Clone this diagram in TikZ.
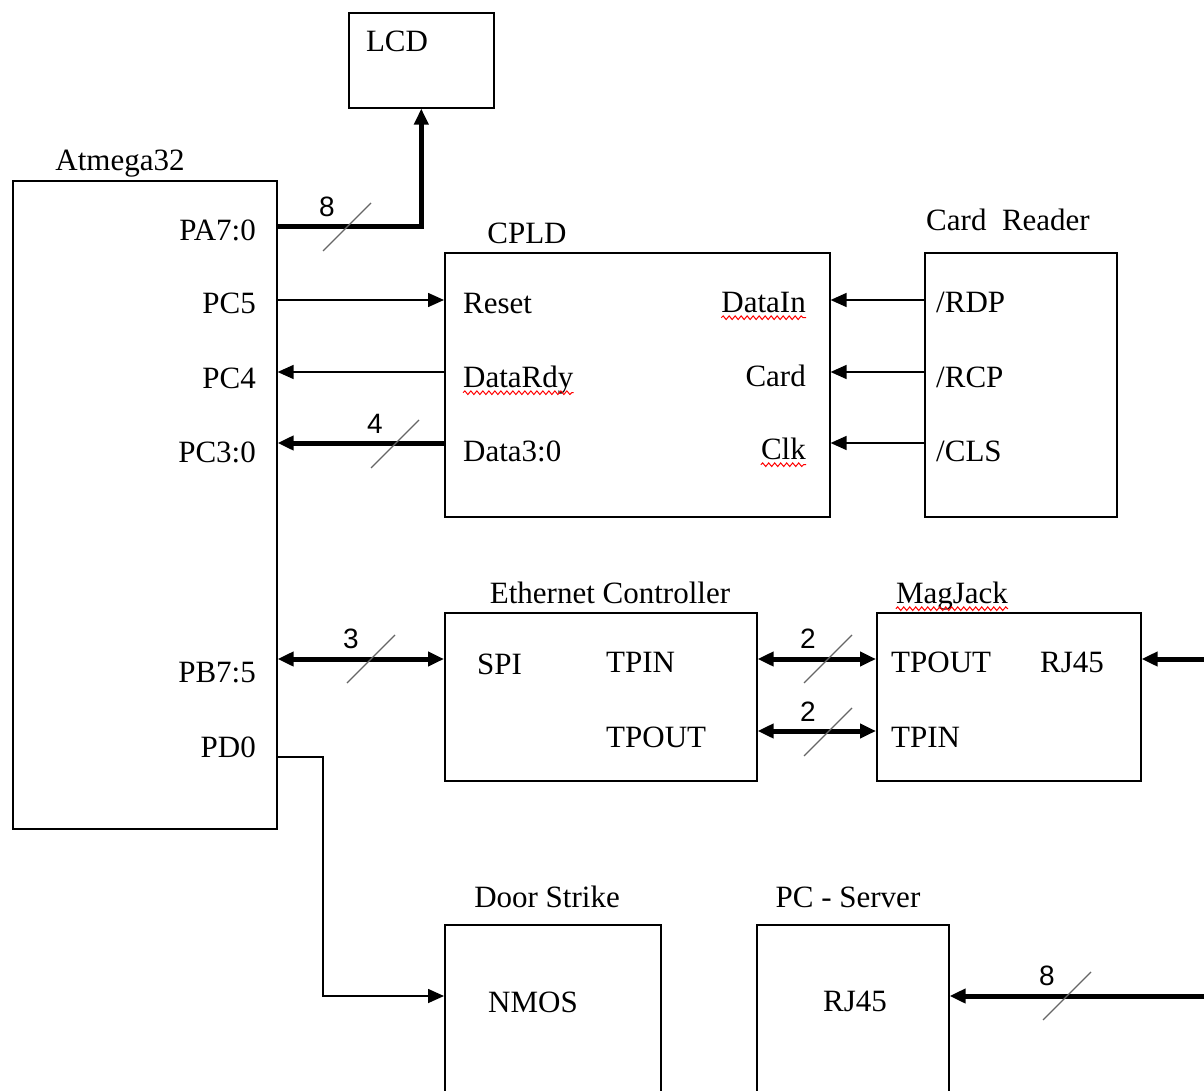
\documentclass[tikz,border=0pt]{standalone}
\usepackage{fontspec}
\setmainfont{Liberation Serif}
\setsansfont{Liberation Sans}
\usetikzlibrary{arrows.meta,decorations.pathmorphing}

\tikzset{
	blk/.style={draw, line width=1.6pt, anchor=north west, inner sep=0pt},
	txt/.style={inner sep=0pt, text height=21pt, text depth=0pt},
	sig/.style={line width=1.6pt},
	bus/.style={line width=5pt},
	slashmark/.style={line width=1.2pt, black!60},
	buswidth/.style={txt, font=\sffamily\fontsize{28}{32}\selectfont},
	squig/.style={red, line width=1pt, decorate,
		decoration={snake, amplitude=1.8pt, segment length=6pt}}
}

\begin{document}
\begin{tikzpicture}[
	x=1pt,
	y=-1pt,
	font=\fontsize{31}{37}\selectfont,
	>={Triangle[length=16pt,width=14pt]}
	]
	\useasboundingbox (0,0) rectangle (1204,1091);
	\clip (0,0) rectangle (1204,1091);

	% --- blocks ---
	\node[blk, minimum width=145pt, minimum height=95pt]  (lcd)  at (348,12)  {};
	\node[blk, minimum width=264pt, minimum height=648pt] (atm)  at (12,180)  {};
	\node[blk, minimum width=385pt, minimum height=264pt] (cpld) at (444,252) {};
	\node[blk, minimum width=192pt, minimum height=264pt] (card) at (924,252) {};
	\node[blk, minimum width=312pt, minimum height=168pt] (eth)  at (444,612) {};
	\node[blk, minimum width=264pt, minimum height=168pt] (mag)  at (876,612) {};
	\node[blk, minimum width=216pt, minimum height=220pt] (door) at (444,924) {};
	\node[blk, minimum width=192pt, minimum height=220pt] (pcs)  at (756,924) {};

	% titles
	\node[txt] (tlcd)  at (397,41)   {LCD};
	\node[txt] (tatm)  at (120,160)  {Atmega32};
	\node[txt] (tcpld) at (527,233)  {CPLD};
	\node[txt] (tcard) at (1008,220) {Card\ \ Reader};
	\node[txt] (teth)  at (610,593)  {Ethernet Controller};
	\node[txt] (tmag)  at (952,593)  {MagJack};
	\node[txt] (tdoor) at (547,897)  {Door Strike};
	\node[txt] (tpcs)  at (848,897)  {PC - Server};

	% Atmega32 pins (right aligned)
	\foreach \nm/\y/\s in {pa/230/PA7:0, pcf/303/PC5, pcv/378/PC4, pcd/452/PC3:0,
		pb/672/PB7:5, pd/747/PD0}
		\node[txt, anchor=east] (\nm) at (256,\y) {\s};

	% CPLD pins
	\node[txt, anchor=west] (reset)   at (463,303) {Reset};
	\node[txt, anchor=west] (datardy) at (463,377) {DataRdy};
	\node[txt, anchor=west] (dataq)   at (463,451) {Data3:0};
	\node[txt, anchor=east] (datain)  at (806,302) {DataIn};
	\node[txt, anchor=east] (cardp)   at (806,376) {Card};
	\node[txt, anchor=east] (clk)     at (806,449) {Clk};

	% Card reader pins
	\node[txt, anchor=west] (rdp) at (936,302) {/RDP};
	\node[txt, anchor=west] (rcp) at (936,377) {/RCP};
	\node[txt, anchor=west] (cls) at (936,451) {/CLS};

	% Ethernet controller / MagJack pins
	\node[txt, anchor=west] (spi)    at (477,664) {SPI};
	\node[txt, anchor=west] (etin)   at (606,662) {TPIN};
	\node[txt, anchor=west] (etout)  at (606,737) {TPOUT};
	\node[txt, anchor=west] (mgout)  at (891,662) {TPOUT};
	\node[txt, anchor=west] (mgrj)   at (1040,662) {RJ45};
	\node[txt, anchor=west] (mgin)   at (891,737) {TPIN};

	% door strike / server
	\node[txt] (nmos) at (533,1002) {NMOS};
	\node[txt] (pcrj) at (855,1001) {RJ45};

	% --- signal rows ---
	\coordinate (rPA) at (0,227);
	\coordinate (rR)  at (0,300);
	\coordinate (rD)  at (0,372);
	\coordinate (rQ)  at (0,443);
	\coordinate (rS)  at (0,659);
	\coordinate (rT)  at (0,731);
	\coordinate (rP)  at (0,757);
	\coordinate (rN)  at (0,996);
	\coordinate (kink) at (323,0);
	\coordinate (edgeS) at (1204,659);
	\coordinate (edgeN) at (1204,996);

	% Atmega32 <-> LCD, CPLD
	\draw[bus,->] (atm.east |- rPA) -| (lcd.south);
	\draw[sig,->] (atm.east |- rR) -- (cpld.west |- rR);
	\draw[sig,->] (cpld.west |- rD) -- (atm.east |- rD);
	\draw[bus,->] (cpld.west |- rQ) -- (atm.east |- rQ);

	% card reader -> CPLD
	\foreach \r in {rR,rD,rQ}
		\draw[sig,->] (card.west |- \r) -- (cpld.east |- \r);

	% SPI and twisted pairs
	\draw[bus,<->] (atm.east |- rS) -- (eth.west |- rS);
	\draw[bus,<->] (eth.east |- rS) -- (mag.west |- rS);
	\draw[bus,<->] (eth.east |- rT) -- (mag.west |- rT);
	\draw[bus,->] (edgeS) -- (mag.east |- edgeS);

	% PD0 -> door strike
	\draw[sig,->] (atm.east |- rP) -- (kink |- rP) -- (kink |- rN) -- (door.west |- rN);

	% network -> server
	\draw[bus,->] (edgeN) -- (pcs.east |- edgeN);

	% bus width marks
	\foreach \sx/\sy/\n in {347/227/8, 395/444/4, 371/659/3, 828/659/2, 828/732/2, 1067/996/8} {
		\draw[slashmark] (\sx-24,\sy+24) -- (\sx+24,\sy-24);
		\node[buswidth] (bw\sx\sy) at (\sx-20,\sy-21) {\n};
	}

	% spell-check marks
	\foreach \nm in {datain, datardy, clk, tmag}
		\draw[squig] ([yshift=-5pt]\nm.south west) -- ([yshift=-5pt]\nm.south east);
\end{tikzpicture}
\end{document}
